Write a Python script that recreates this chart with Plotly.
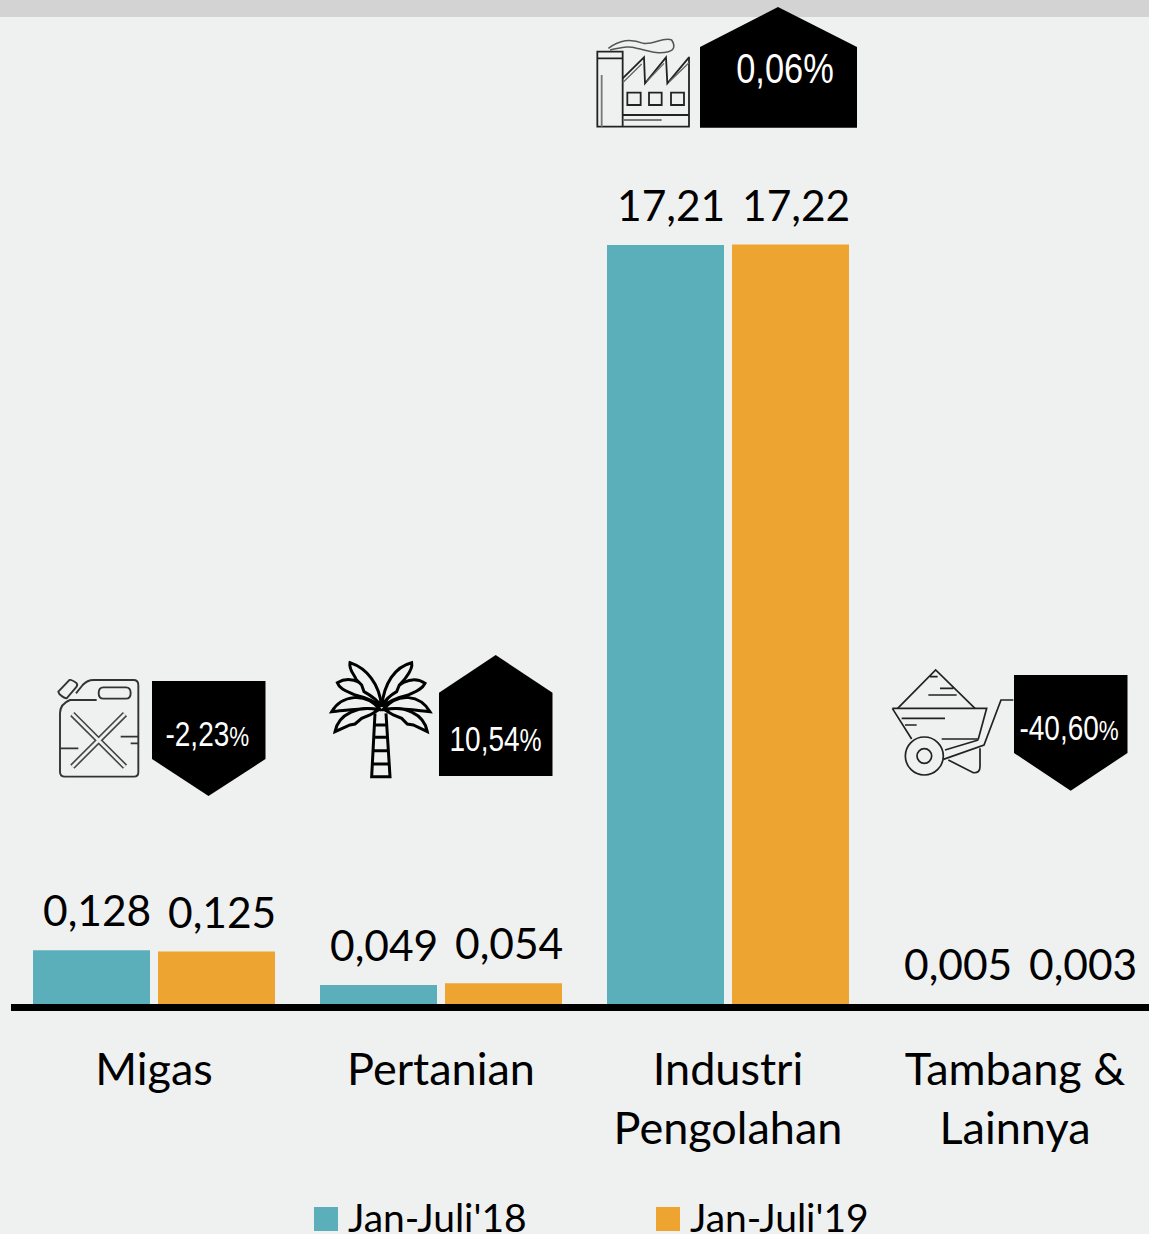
import re
import plotly.graph_objects as go

W, H, BASE = 1149, 1234, 1004

categories = ["Migas", "Pertanian", "Industri<br>Pengolahan", "Tambang &<br>Lainnya"]
series_names = ["Jan-Juli'18", "Jan-Juli'19"]
# Heights as drawn in the picture (small bars are drawn larger than their labels)
heights_18 = [1.22, 0.43, 17.21, 0.0]
heights_19 = [1.19, 0.47, 17.22, 0.0]
labels_18 = ["0,128", "0,049", "17,21", "0,005"]
labels_19 = ["0,125", "0,054", "17,22", "0,003"]
changes = ["-2,23", "10,54", "0,06", "-40,60"]

TEAL, ORANGE, BG = "#5aafbb", "#eea430", "#eff1f1"
LATO = "Lato, Carlito, sans-serif"
NARROW = "'Liberation Sans', sans-serif"
UNIT = 759 / 17.21  # px per axis unit
CAT0, CATW = 154, 287

shapes, ann = [], []

def px(path, ox=0, oy=0, s=1.0):
    i = 0
    def rep(m):
        nonlocal i
        v = float(m.group())
        if i % 2 == 0:
            r = (ox + v * s) / W
        else:
            r = (BASE - (oy + v * s)) / BASE
        i += 1
        return f"{r:.5f}"
    return re.sub(r"-?\d+\.?\d*", rep, path)

def add(path, ox=0, oy=0, s=1.0, color="#444", width=1.5, fill=None):
    shapes.append(dict(type="path", xref="paper", yref="paper", path=px(path, ox, oy, s),
                       line=dict(color=color, width=width),
                       fillcolor=fill if fill else "rgba(0,0,0,0)"))

def solid(path):
    shapes.append(dict(type="path", xref="paper", yref="paper", path=px(path),
                       line=dict(width=0), fillcolor="black"))

def circ(cx, cy, r):
    k = 0.5523 * r
    return (f"M{cx-r} {cy} C{cx-r} {cy-k} {cx-k} {cy-r} {cx} {cy-r} C{cx+k} {cy-r} {cx+r} {cy-k} {cx+r} {cy} "
            f"C{cx+r} {cy+k} {cx+k} {cy+r} {cx} {cy+r} C{cx-k} {cy+r} {cx-r} {cy+k} {cx-r} {cy} Z")

# Top strip
add(f"M0 0 L{W} 0 L{W} 17 L0 17 Z", color="#d3d3d3", width=0, fill="#d3d3d3")
# Baseline
solid(f"M11 1004 L{W} 1004 L{W} 1011 L11 1011 Z")

# Badges
solid("M152 681 L265.5 681 L265.5 759 L208.5 796 L152 759 Z")
solid("M439 776 L552.5 776 L552.5 692.7 L495.7 655 L439 692.7 Z")
solid("M700 127.7 L857 127.7 L857 47 L778 7 L700 47 Z")
solid("M1014 675 L1127.5 675 L1127.5 753 L1070.7 790.7 L1014 753 Z")

def badge(text, x, y, size, pct):
    ann.append(dict(xref="paper", yref="paper", x=x / W, y=(BASE - y) / BASE, showarrow=False,
                    xanchor="center", yanchor="middle",
                    text=f"{text}<span style='font-size:{pct}px'>%</span>",
                    font=dict(family=NARROW, size=size, color="white")))

badge(changes[0], 207, 733, 35, 28)
badge(changes[1], 495.5, 738, 35, 31)
badge(changes[2], 784.5, 68, 43, 43)
badge(changes[3], 1069, 727, 35, 28)

# Jerry can
o = dict(ox=40, oy=650, s=1 / 3, color="#333", width=1.9)
add("M60 190 C60 170 70 158 90 150 L170 150 M60 190 L60 365 Q60 380 75 380 L282 380 Q295 380 295 367 L295 105 Q295 90 280 90 L160 90 Q142 90 128 105 L108 130", **o)
add("M190 112 L258 112 Q272 112 272 129 Q272 146 258 146 L190 146 Q176 146 176 129 Q176 112 190 112 Z", **o)
add("M55 125 L88 90 Q95 88 110 100 Q114 106 108 112 L80 145 Q72 145 58 132 Z", **o)
add("M60 295 L115 295 M242 260 L295 260 M272 280 L295 280", **o)
add("M97 192 L255 350 M255 192 L97 350", ox=40, oy=650, s=1 / 3, color="#444", width=6)
add("M97 192 L255 350 M255 192 L97 350", ox=40, oy=650, s=1 / 3, color=BG, width=2.8)

# Palm
o = dict(ox=320, oy=650, s=1 / 3, color="black", width=3)
add("M165 190 L155 380 L210 380 L198 190 M160 225 L203 225 M158 262 L205 262 M157 302 L207 302 M156 342 L208 342", **o)
o_f = dict(o, fill=BG)
add("M180 178 C135 125 65 135 35 185 C90 180 140 172 180 178 Z", **o_f)
add("M190 178 C235 125 300 135 330 185 C280 180 230 172 190 178 Z", **o_f)
add("M175 180 C120 165 55 190 45 245 L90 225 L105 222 L125 205 L150 195 Z", **o_f)
add("M195 180 C250 165 312 190 322 245 L280 225 L262 222 L245 205 L220 195 Z", **o_f)
add("M180 170 C150 95 90 75 52 98 C60 120 85 125 105 135 C135 142 160 150 180 170 Z", **o_f)
add("M190 170 C220 95 280 75 315 100 C305 120 285 125 265 135 C235 142 210 150 190 170 Z", **o_f)
add("M185 170 C178 100 140 55 90 38 C85 60 105 75 108 88 L125 105 L132 125 C150 135 172 150 185 170 Z", **o_f)
add("M185 170 C192 100 225 50 275 38 C280 60 258 80 252 90 L238 105 L230 125 C212 135 195 150 185 170 Z", **o_f)

# Factory
o = dict(ox=590, oy=0, s=1 / 3, color="#222", width=1.8)
add("M22 155 L98 155 L98 380 L22 380 Z M22 175 L98 175 M297 170 L297 380 L98 380 M98 345 L297 345", **o)
add("M98 235 L162 172 L165 250 L228 172 L232 250 L297 172", **o)
add("M98 248 L155 192 M170 245 L222 190 M238 245 L297 188", ox=590, oy=0, s=1 / 3, color="#666", width=1.3)
add("M112 278 L152 278 L152 315 L112 315 Z M177 278 L215 278 L215 315 L177 315 Z M243 278 L282 278 L282 315 L243 315 Z", **o)
add("M35 225 L35 380 M100 360 L215 360", ox=590, oy=0, s=1 / 3, color="#777", width=1.8)
add("M55 145 C90 120 120 115 160 130 C190 135 220 110 245 120 C255 135 255 150 235 155 C200 165 170 150 140 145 C110 135 90 145 60 150", ox=590, oy=0, s=1 / 3, color="#555", width=1.5)

# Wheelbarrow
o = dict(ox=885, oy=660, s=1 / 3, color="#222", width=1.7)
add("M38 145 L152 30 L270 145 M135 50 L158 50 M165 85 L205 85 M130 105 L215 105", **o)
add("M22 145 L305 145 L280 237 L170 237 M22 145 L80 237 M50 175 L180 175 M60 195 L95 195", **o)
add("M385 120 L348 120 L297 255 L175 298 M180 270 L280 240 M190 300 L265 338 Q285 340 285 320 L285 265", **o)
add(circ(118, 288, 57), **o)
add(circ(118, 288, 22), **o)

# Value labels anchored on the bars
for i in range(4):
    for off, vals, labs in ((-57.5, heights_18, labels_18), (67.5, heights_19, labels_19)):
        ann.append(dict(xref="x", yref="y", x=categories[i], y=vals[i], xshift=off, yshift=13,
                        yanchor="bottom", showarrow=False, text=labs[i],
                        font=dict(family=LATO, size=42.5, color="black")))

# Legend
for x0, tx, col, name in ((314, 346, TEAL, series_names[0]), (656, 688, ORANGE, series_names[1])):
    add(f"M{x0} 1207 L{x0+24} 1207 L{x0+24} 1231 L{x0} 1231 Z", color=col, width=0, fill=col)
    ann.append(dict(xref="paper", yref="paper", x=tx / W, y=(BASE - 1217) / BASE, xanchor="left",
                    yanchor="middle", showarrow=False, text=name,
                    font=dict(family=LATO, size=39, color="black")))

fig = go.Figure()
fig.add_bar(x=categories, y=heights_18, name=series_names[0], marker=dict(color=TEAL, line_width=0))
fig.add_bar(x=categories, y=heights_19, name=series_names[1], marker=dict(color=ORANGE, line_width=0))
fig.update_layout(
    width=W, height=H, autosize=False, showlegend=False,
    margin=dict(l=0, r=0, t=0, b=H - BASE, pad=0),
    paper_bgcolor=BG, plot_bgcolor=BG,
    barmode="group", bargap=37 / 287, bargroupgap=8 / 125,
    shapes=shapes, annotations=ann,
    xaxis=dict(range=[-CAT0 / CATW, (W - CAT0) / CATW], showgrid=False, zeroline=False, showline=False,
               ticks="outside", ticklen=26, tickcolor="rgba(0,0,0,0)", tickangle=0,
               tickfont=dict(family=LATO, size=45, color="black")),
    yaxis=dict(range=[0, BASE / UNIT], visible=False),
)
post = """
document.body.style.margin='0';document.body.style.overflow='hidden';
document.querySelectorAll('.annotation-text').forEach(function(t){
  if(t.textContent.indexOf('%')<0) return;
  var b=t.getBBox(), c=b.x+b.width/2;
  t.setAttribute('transform','translate('+c+' 0) scale(0.8 1) translate('+(-c)+' 0)');
});
"""
fig.write_html("out.html", config=dict(displayModeBar=False), post_script=post)
